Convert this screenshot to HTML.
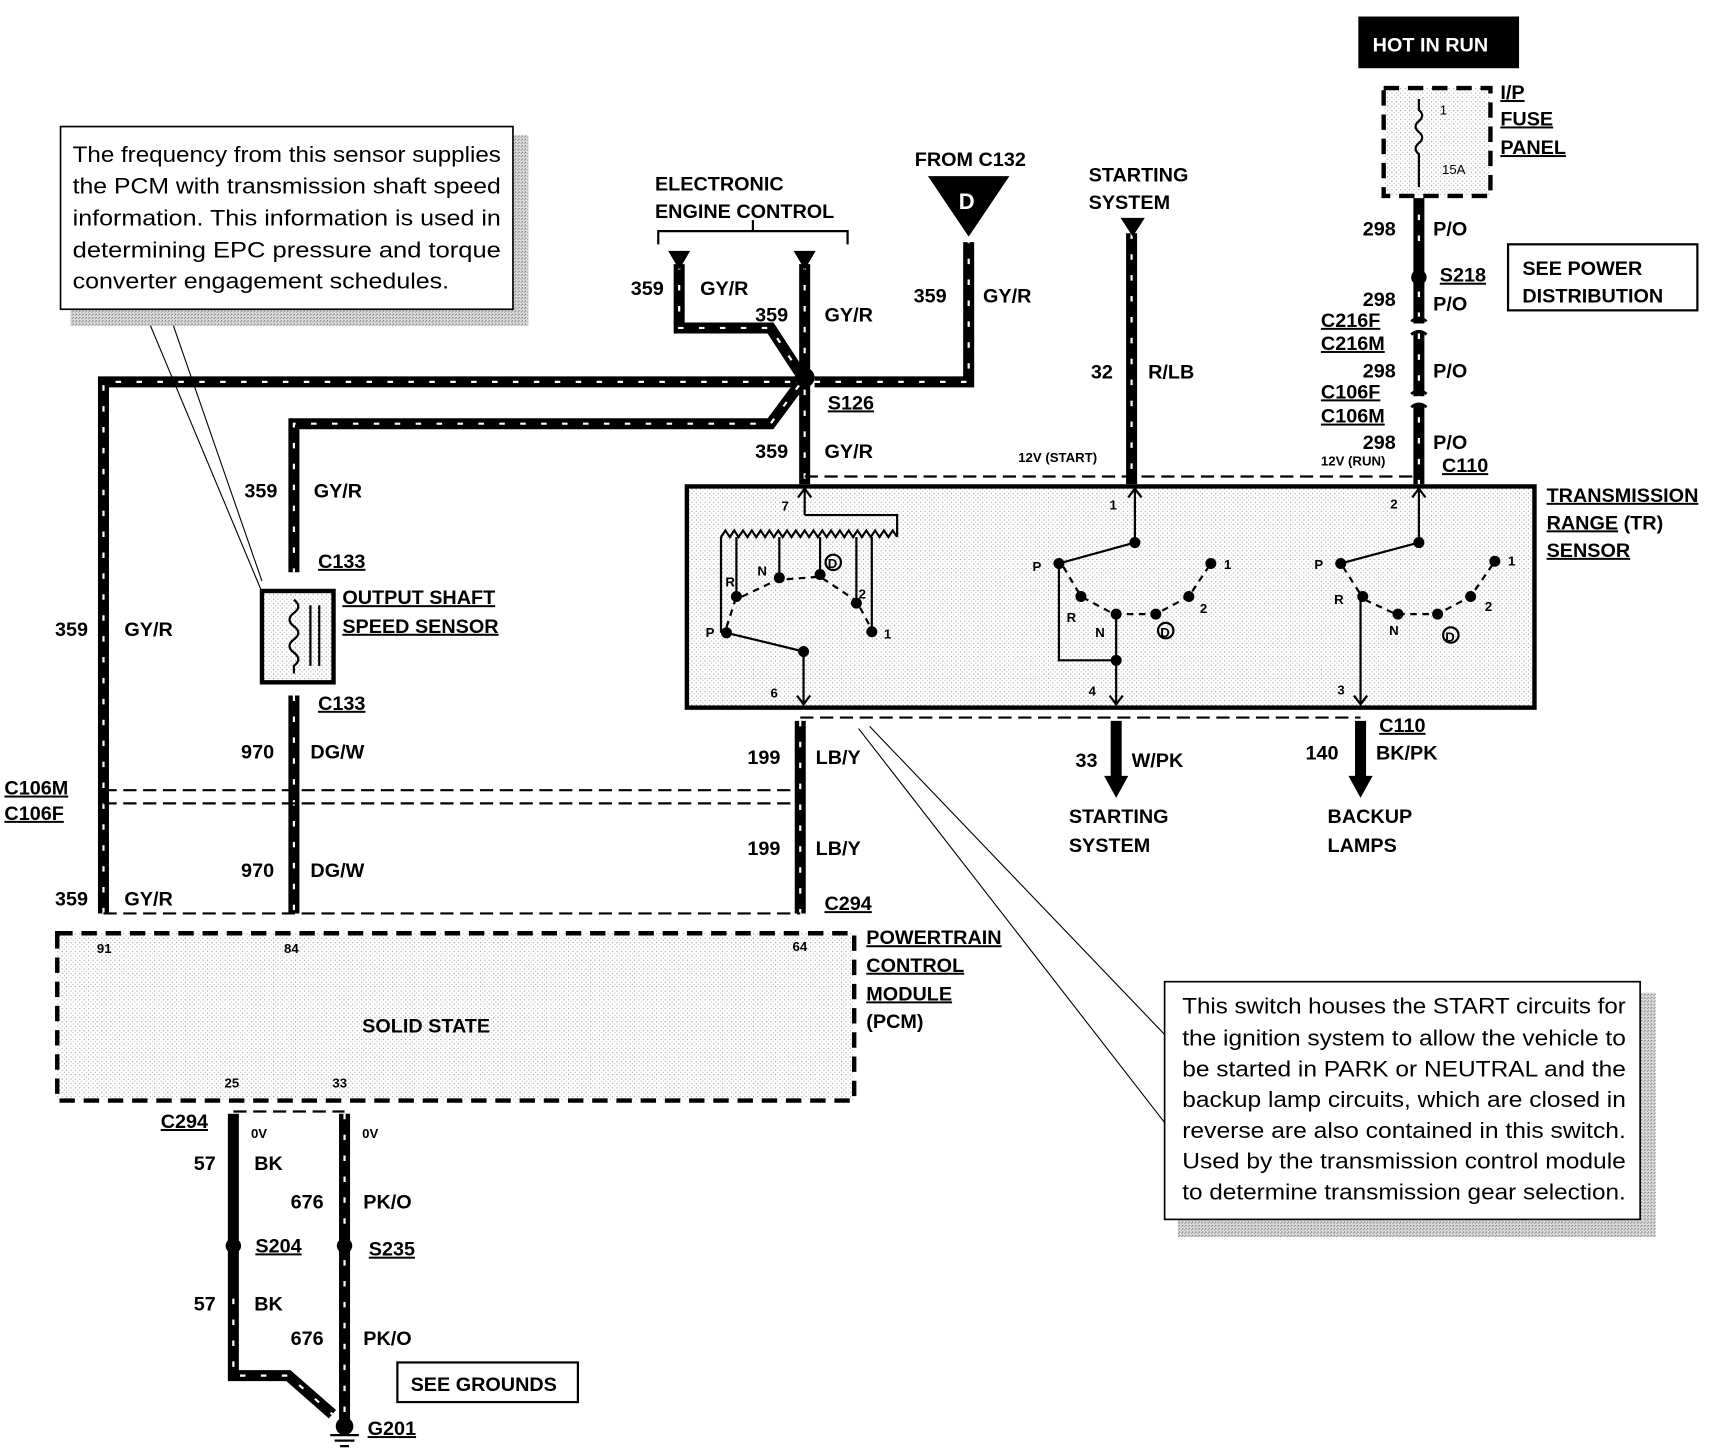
<!DOCTYPE html>
<html><head><meta charset="utf-8"><style>
html,body{margin:0;padding:0;background:#fff}
svg{display:block}
text{font-family:"Liberation Sans",sans-serif;font-weight:bold;fill:#000}
.n{font-weight:normal}
.u{text-decoration:underline}
</style></head><body>
<svg width="1726" height="1456" viewBox="0 0 1568 1323" preserveAspectRatio="none" xmlns="http://www.w3.org/2000/svg">
<defs>
<pattern id="dot" width="4" height="4" patternUnits="userSpaceOnUse"><rect width="4" height="4" fill="#fff"/><rect width="1" height="1" fill="#999"/><rect x="2" y="2" width="1" height="1" fill="#bbb"/></pattern>
<pattern id="sh" width="3" height="3" patternUnits="userSpaceOnUse"><rect width="3" height="3" fill="#ddd"/><rect width="1" height="1" fill="#666"/><rect x="2" y="1" width="1" height="1" fill="#888"/></pattern>
</defs>
<g fill="none" stroke="#000">
<g stroke-width="10" stroke-linejoin="miter">
<path d="M94,830 V347 H723"/>
<path d="M740,347 H880 V220"/>
<path d="M617,240 V298 H700 L726,338"/>
<path d="M731,240 V440"/>
<path d="M726,350 L700,385 H267 V520"/>
<path d="M1028,212 V440"/>
<path d="M1289,180 V440"/>
<path d="M267,632 V830"/>
<path d="M727,655 V830"/>
<path d="M1014,655 V710"/>
<path d="M1236,655 V710"/>
<path d="M212,1012 V1250 H262 L302,1285"/>
<path d="M313,1012 V1290"/>
</g>
<g stroke="#fff" stroke-width="2" stroke-dasharray="5 14">
<path d="M94,830 V347 H723"/>
<path d="M740,347 H880 V220"/>
<path d="M617,240 V298 H700 L726,338"/>
<path d="M731,240 V440"/>
<path d="M726,350 L700,385 H267 V520"/>
<path d="M1028,212 V440"/>
<path d="M267,632 V830"/>
<path d="M727,655 V830"/>
<path d="M313,1012 V1290"/>
<path d="M212,1180 V1250 H262 L302,1285"/>
<path d="M1289,195 V230 M1289,265 V440"/>
</g>
<!-- connector breaks on 298 -->
<g stroke="#fff" stroke-width="8"><path d="M1282,298 H1296 M1282,364 H1296"/></g>
<g stroke-width="2.5"><path d="M1282,292 q7,-6 14,0 M1282,304 q7,-6 14,0 M1282,358 q7,-6 14,0 M1282,370 q7,-6 14,0"/></g>
<g stroke-width="2" stroke-dasharray="12 6">
<path d="M731,433 H1289"/>
<path d="M727,652 H1236"/>
<path d="M94,718 H727"/><path d="M94,730 H727"/>
<path d="M94,830 H727"/>
<path d="M212,1010 H313"/>
</g>
<path d="M1257,80 H1354 V178 H1257 Z" stroke-width="4" stroke-dasharray="14 8" fill="url(#dot)"/>
<path d="M1289,90 V100 q6,5 0,10 q-6,5 0,10 q6,5 0,10 q-6,5 0,10 V170" stroke-width="2"/>
<rect x="52" y="848" width="724" height="152" stroke-width="4" stroke-dasharray="14 8" fill="url(#dot)"/>
<rect x="624" y="442" width="770" height="201" stroke-width="4" fill="url(#dot)"/>
<rect x="238" y="537" width="65" height="83" stroke-width="4" fill="url(#dot)"/>
<path d="M267,545 q8,6 0,12 q-8,6 0,12 q8,6 0,12 q-8,6 0,12 q8,6 0,12 V612 M282,550 V605 M290,550 V605" stroke-width="2"/>
<path d="M130,280 L238,538 M152,280 L238,528" stroke-width="1"/>
<path d="M790,660 L1058,940 M780,662 L1058,1020" stroke-width="1"/>
<path d="M598,222 V210 H770 V222 M684,210 V200" stroke-width="2"/>
<g stroke-width="2">
<path d="M731,468 V444 M725,452 L731,444 L737,452"/>
<path d="M731,468 H815 V488"/>
<path d="M655,488 l4,-6 4,6 4,-6 4,6 4,-6 4,6 4,-6 4,6 4,-6 4,6 4,-6 4,6 4,-6 4,6 4,-6 4,6 4,-6 4,6 4,-6 4,6 4,-6 4,6 4,-6 4,6 4,-6 4,6 4,-6 4,6 4,-6 4,6 4,-6 4,6 4,-6 4,6 4,-6 4,6 4,-6 4,6 4,-6 4,6"/>
<path d="M655,488 V575 M669,488 V542 M708,488 V525 M745,488 V522 M778,488 V548 M792,488 V572"/>
<path d="M660,575 L730,592 V640 M724,632 L730,640 L736,632"/>
<path d="M1031,444 V493 L962,512 V600 H1014 V640 M1008,632 L1014,640 L1020,632 M1014,560 V600 M1025,452 L1031,444 L1037,452"/>
<path d="M1289,444 V493 L1218,512 M1236,545 V640 M1230,632 L1236,640 L1242,632 M1283,452 L1289,444 L1295,452"/>
<path d="M1220,515 L1236,540" stroke-dasharray="6 5"/>
<path d="M1240,545 L1268,558 L1306,558 L1336,542 L1358,510" stroke-dasharray="6 5"/>
<path d="M966,515 L982,542 L1012,558 L1050,558 L1080,542 L1100,512" stroke-dasharray="6 5"/>
<path d="M660,570 L668,545 L706,527 L745,524 L778,546 L792,572" stroke-dasharray="6 5"/>
<circle cx="757" cy="511" r="7"/><circle cx="1059" cy="573" r="7"/><circle cx="1318" cy="577" r="7"/>
</g>
</g>
<g fill="#000">
<circle cx="731" cy="343" r="9"/>
<circle cx="1289" cy="252" r="7"/>
<circle cx="212" cy="1132" r="7"/><circle cx="313" cy="1132" r="7"/>
<path d="M843,160 H917 L880,215 Z"/>
<path d="M607,228 H627 L617,245 Z"/><path d="M721,228 H741 L731,245 Z"/><path d="M1018,198 H1040 L1029,215 Z"/>
<path d="M1003,705 H1025 L1014,725 Z"/><path d="M1225,705 H1247 L1236,725 Z"/>
<rect x="1234" y="15" width="146" height="47"/>
<circle cx="660" cy="575" r="5"/><circle cx="669" cy="542" r="5"/><circle cx="708" cy="525" r="5"/><circle cx="745" cy="522" r="5"/><circle cx="778" cy="548" r="5"/><circle cx="792" cy="574" r="5"/><circle cx="730" cy="592" r="5"/>
<circle cx="1031" cy="493" r="5"/><circle cx="962" cy="512" r="5"/><circle cx="982" cy="542" r="5"/><circle cx="1014" cy="558" r="5"/><circle cx="1050" cy="558" r="5"/><circle cx="1080" cy="542" r="5"/><circle cx="1100" cy="512" r="5"/><circle cx="1014" cy="600" r="5"/>
<circle cx="1289" cy="493" r="5"/><circle cx="1218" cy="512" r="5"/><circle cx="1238" cy="542" r="5"/><circle cx="1270" cy="558" r="5"/><circle cx="1306" cy="558" r="5"/><circle cx="1336" cy="542" r="5"/><circle cx="1358" cy="510" r="5"/>
<circle cx="313" cy="1296" r="8"/>
</g>
<path d="M300,1304 H326 M304,1309 H322 M309,1314 H317" stroke="#000" stroke-width="2"/>
<rect x="64" y="123" width="416" height="173" fill="url(#sh)"/>
<rect x="55" y="115" width="411" height="166" fill="#fff" stroke="#000" stroke-width="1.5"/>
<rect x="1070" y="902" width="434" height="222" fill="url(#sh)"/>
<rect x="1058" y="892" width="432" height="216" fill="#fff" stroke="#000" stroke-width="1.5"/>
<rect x="1370" y="222" width="172" height="60" fill="#fff" stroke="#000" stroke-width="2"/>
<rect x="361" y="1238" width="164" height="36" fill="#fff" stroke="#000" stroke-width="2"/>
<g font-size="20">
<text class="n" x="66" y="147" textLength="389" lengthAdjust="spacingAndGlyphs">The frequency from this sensor supplies</text>
<text class="n" x="66" y="176" textLength="389" lengthAdjust="spacingAndGlyphs">the PCM with transmission shaft speed</text>
<text class="n" x="66" y="205" textLength="389" lengthAdjust="spacingAndGlyphs">information. This information is used in</text>
<text class="n" x="66" y="234" textLength="389" lengthAdjust="spacingAndGlyphs">determining EPC pressure and torque</text>
<text class="n" x="66" y="262" textLength="342" lengthAdjust="spacingAndGlyphs">converter engagement schedules.</text>
<text class="n" x="1074" y="921" textLength="403" lengthAdjust="spacingAndGlyphs">This switch houses the START circuits for</text>
<text class="n" x="1074" y="950" textLength="403" lengthAdjust="spacingAndGlyphs">the ignition system to allow the vehicle to</text>
<text class="n" x="1074" y="978" textLength="403" lengthAdjust="spacingAndGlyphs">be started in PARK or NEUTRAL and the</text>
<text class="n" x="1074" y="1006" textLength="403" lengthAdjust="spacingAndGlyphs">backup lamp circuits, which are closed in</text>
<text class="n" x="1074" y="1034" textLength="403" lengthAdjust="spacingAndGlyphs">reverse are also contained in this switch.</text>
<text class="n" x="1074" y="1062" textLength="403" lengthAdjust="spacingAndGlyphs">Used by the transmission control module</text>
<text class="n" x="1074" y="1090" textLength="403" lengthAdjust="spacingAndGlyphs">to determine transmission gear selection.</text>
</g>
<g font-size="18">
<text x="1247" y="47" style="fill:#fff">HOT IN RUN</text>
<text x="1363" y="90" class="u">I/P</text><text x="1363" y="114" class="u">FUSE</text><text x="1363" y="140" class="u">PANEL</text>
<text x="1238" y="214">298</text><text x="1302" y="214">P/O</text>
<text x="1308" y="256" class="u">S218</text>
<text x="1383" y="250">SEE POWER</text><text x="1383" y="275">DISTRIBUTION</text>
<text x="1238" y="278">298</text><text x="1302" y="282">P/O</text>
<text x="1200" y="297" class="u">C216F</text><text x="1200" y="318" class="u">C216M</text>
<text x="1238" y="343">298</text><text x="1302" y="343">P/O</text>
<text x="1200" y="362" class="u">C106F</text><text x="1200" y="384" class="u">C106M</text>
<text x="1238" y="408">298</text><text x="1302" y="408">P/O</text>
<text x="1310" y="429" class="u">C110</text>
<text x="1405" y="456" class="u">TRANSMISSION</text><text x="1405" y="481"><tspan class="u">RANGE</tspan> (TR)</text><text x="1405" y="506" class="u">SENSOR</text>
<text x="989" y="165">STARTING</text><text x="989" y="190">SYSTEM</text>
<text x="991" y="344">32</text><text x="1043" y="344">R/LB</text>
<text x="831" y="151">FROM C132</text>
<text x="871" y="190" style="fill:#fff" font-size="20">D</text>
<text x="830" y="275">359</text><text x="893" y="275">GY/R</text>
<text x="595" y="173">ELECTRONIC</text><text x="595" y="198">ENGINE CONTROL</text>
<text x="573" y="268">359</text><text x="636" y="268">GY/R</text>
<text x="686" y="292">359</text><text x="749" y="292">GY/R</text>
<text x="752" y="372" class="u">S126</text>
<text x="686" y="416">359</text><text x="749" y="416">GY/R</text>
<text x="222" y="452">359</text><text x="285" y="452">GY/R</text>
<text x="289" y="516" class="u">C133</text>
<text x="311" y="549" class="u">OUTPUT SHAFT</text><text x="311" y="575" class="u">SPEED SENSOR</text>
<text x="289" y="645" class="u">C133</text>
<text x="50" y="578">359</text><text x="113" y="578">GY/R</text>
<text x="219" y="689">970</text><text x="282" y="689">DG/W</text>
<text x="679" y="694">199</text><text x="741" y="694">LB/Y</text>
<text x="4" y="722" class="u">C106M</text><text x="4" y="745" class="u">C106F</text>
<text x="219" y="797">970</text><text x="282" y="797">DG/W</text>
<text x="679" y="777">199</text><text x="741" y="777">LB/Y</text>
<text x="50" y="823">359</text><text x="113" y="823">GY/R</text>
<text x="749" y="827" class="u">C294</text>
<text x="977" y="697">33</text><text x="1028" y="697">W/PK</text>
<text x="1186" y="690">140</text><text x="1250" y="690">BK/PK</text>
<text x="1253" y="665" class="u">C110</text>
<text x="971" y="748">STARTING</text><text x="971" y="774">SYSTEM</text>
<text x="1206" y="748">BACKUP</text><text x="1206" y="774">LAMPS</text>
<text x="787" y="858" class="u">POWERTRAIN</text><text x="787" y="883" class="u">CONTROL</text><text x="787" y="909" class="u">MODULE</text><text x="787" y="934">(PCM)</text>
<text x="329" y="938">SOLID STATE</text>
<text x="146" y="1025" class="u">C294</text>
<text x="176" y="1063">57</text><text x="231" y="1063">BK</text>
<text x="264" y="1098">676</text><text x="330" y="1098">PK/O</text>
<text x="232" y="1138" class="u">S204</text><text x="335" y="1141" class="u">S235</text>
<text x="176" y="1191">57</text><text x="231" y="1191">BK</text>
<text x="264" y="1222">676</text><text x="330" y="1222">PK/O</text>
<text x="373" y="1264">SEE GROUNDS</text>
<text x="334" y="1304" class="u">G201</text>
</g>
<g font-size="12">
<text x="228" y="1034">0V</text><text x="329" y="1034">0V</text>
<text x="88" y="866">91</text><text x="258" y="866">84</text><text x="720" y="864">64</text>
<text x="204" y="988">25</text><text x="302" y="988">33</text>
<text x="925" y="420">12V (START)</text><text x="1200" y="423">12V (RUN)</text>
<text x="1308" y="104" class="n">1</text><text x="1310" y="158" class="n">15A</text>
<text x="710" y="464">7</text><text x="1008" y="463">1</text><text x="1263" y="462">2</text>
<text x="700" y="634">6</text><text x="989" y="632">4</text><text x="1215" y="631">3</text>
<text x="659" y="533">R</text><text x="688" y="523">N</text><text x="641" y="579">P</text><text x="780" y="544">2</text><text x="803" y="580">1</text>
<text x="938" y="519">P</text><text x="969" y="565">R</text><text x="995" y="579">N</text><text x="1090" y="557">2</text><text x="1112" y="517">1</text>
<text x="1194" y="517">P</text><text x="1212" y="549">R</text><text x="1262" y="577">N</text><text x="1349" y="555">2</text><text x="1370" y="514">1</text>
<text x="752" y="516">D</text><text x="1054" y="579">D</text><text x="1313" y="583">D</text>
</g>
</svg>
</body></html>
